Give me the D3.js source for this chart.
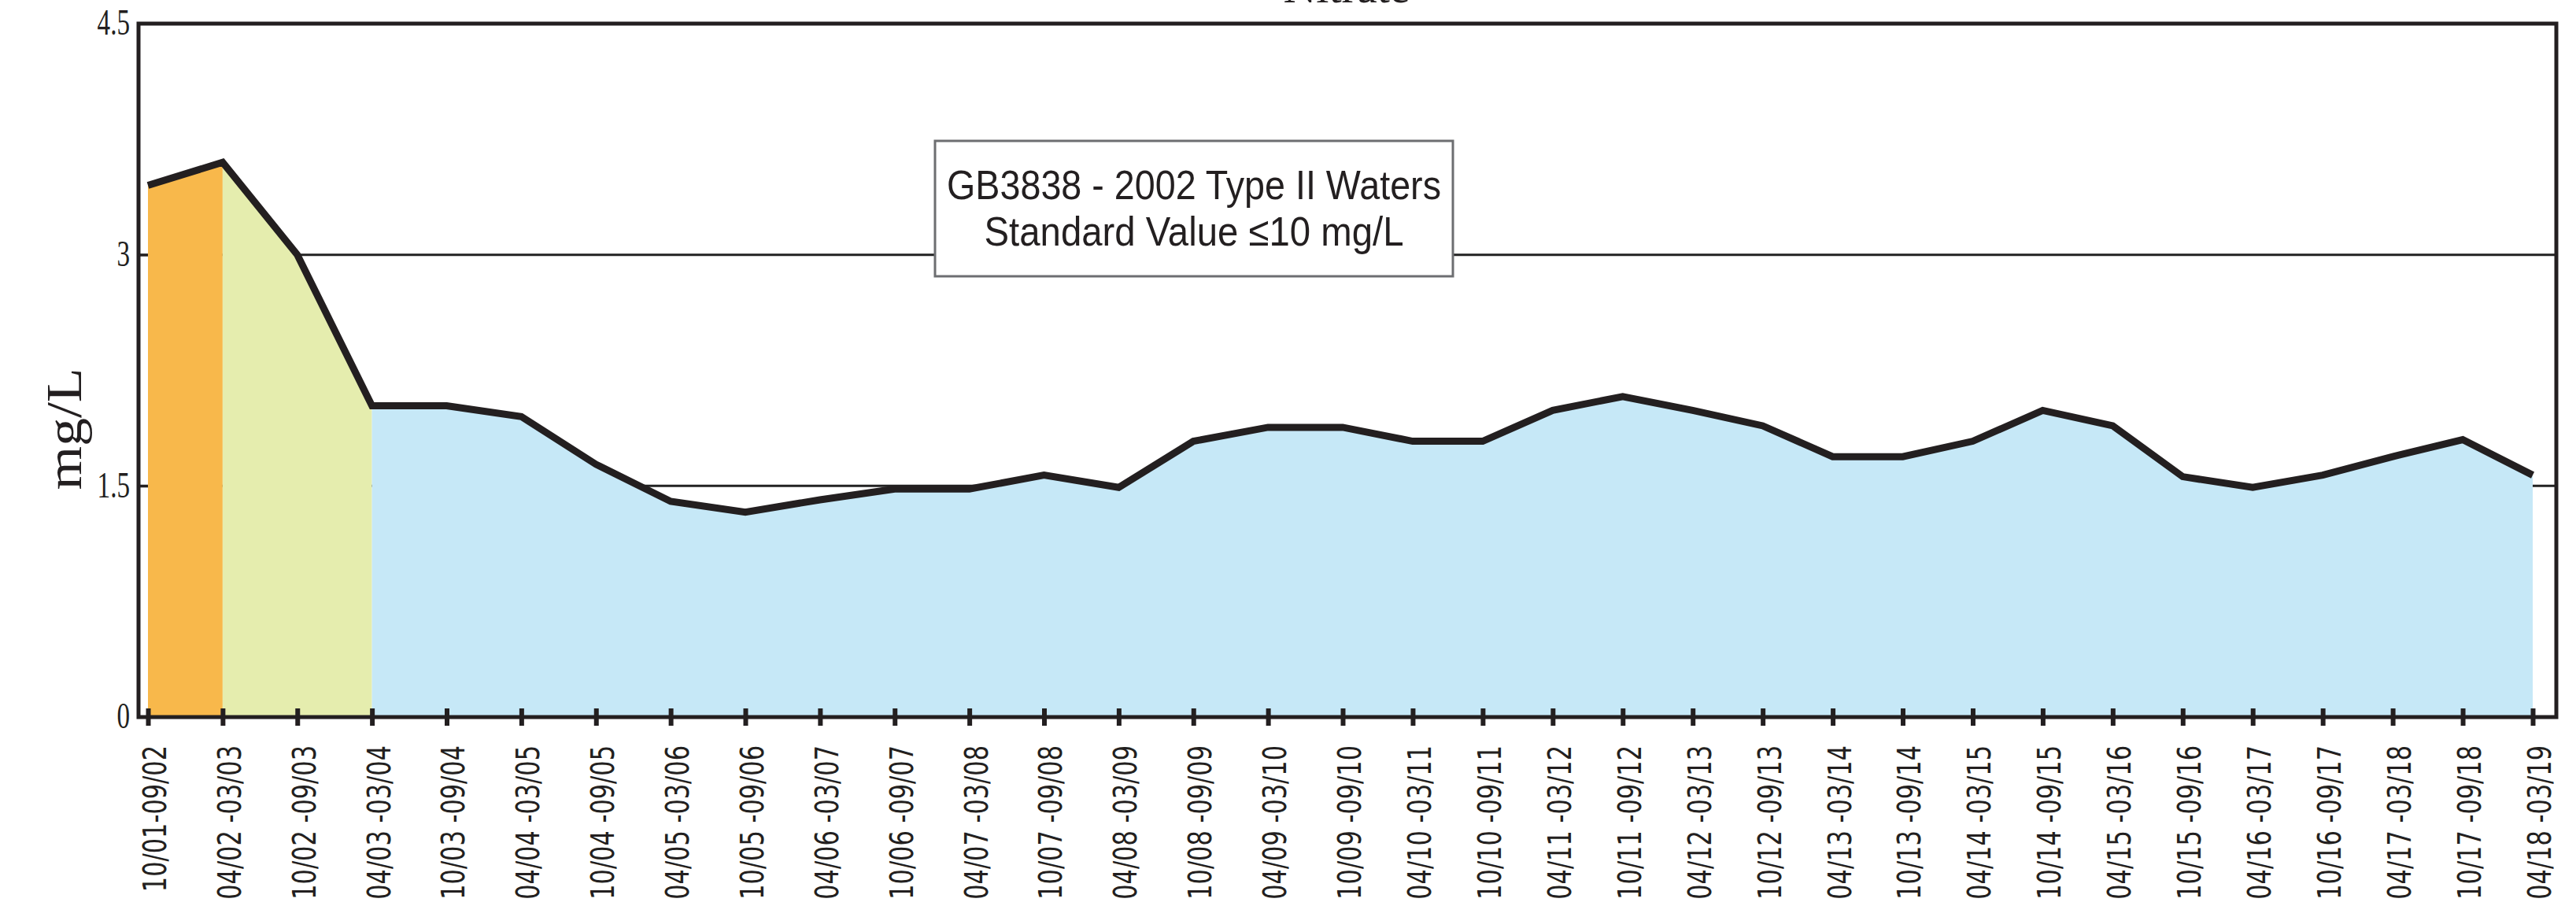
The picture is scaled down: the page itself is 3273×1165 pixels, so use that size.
<!DOCTYPE html>
<html>
<head>
<meta charset="utf-8">
<style type="text/css">
  body { margin: 0; background: #fff; }
  .axis text { fill: #231f20; }
  .ylab text { font: 46px "Liberation Serif", serif; }
  .xlab text { font: 40px "DejaVu Sans", sans-serif; }
</style>
</head>
<body>
<svg id="chart" width="3273" height="1165"></svg>
<script src="https://d3js.org/d3.v7.min.js"></script>
<script>
// periods (half years)
var labels = ["10/01-09/02", "04/02 -03/03", "10/02 -09/03", "04/03 -03/04", "10/03 -09/04",
  "04/04 -03/05", "10/04 -09/05", "04/05 -03/06", "10/05 -09/06", "04/06 -03/07",
  "10/06 -09/07", "04/07 -03/08", "10/07 -09/08", "04/08 -03/09", "10/08 -09/09",
  "04/09 -03/10", "10/09 -09/10", "04/10 -03/11", "10/10 -09/11", "04/11 -03/12",
  "10/11 -09/12", "04/12 -03/13", "10/12 -09/13", "04/13 -03/14", "10/13 -09/14",
  "04/14 -03/15", "10/14 -09/15", "04/15 -03/16", "10/15 -09/16", "04/16 -03/17",
  "10/16 -09/17", "04/17 -03/18", "10/17 -09/18", "04/18 -03/19"];

// nitrate, mg/L
var values = [3.45, 3.60, 3.00, 2.02, 2.02, 1.95, 1.64, 1.40, 1.33, 1.41,
  1.48, 1.48, 1.57, 1.49, 1.79, 1.88, 1.88, 1.79, 1.79, 1.99,
  2.08, 1.99, 1.89, 1.69, 1.69, 1.79, 1.99, 1.89, 1.56, 1.49,
  1.57, 1.69, 1.80, 1.57];

var yTicks = [0, 1.5, 3, 4.5];
var refLines = [1.5, 3];
// shaded stages: index where each colour band starts/ends
var stageBreaks = [0, 1, 3, 33];
var stageColors = ["#f8b84b", "#e5edae", "#c6e8f7"];

var svg = d3.select("#chart");

var x = d3.scaleLinear()
    .domain([0, 16, 33])
    .range([188, 1706, 3218]);

var y = d3.scaleLinear()
    .domain([0, 4.5])
    .range([911, 30]);

var left = 176, right = 3248;

// title (cut at top of the figure, as in the original)
svg.append("text")
    .attr("x", 1711)
    .attr("y", 3)
    .attr("text-anchor", "middle")
    .attr("font-family", "Liberation Serif, serif")
    .attr("font-size", 58)
    .attr("fill", "#231f20")
    .text("Nitrate");

// horizontal lines behind the areas
svg.selectAll("line.ref")
  .data(refLines)
  .enter().append("line")
    .attr("class", "ref")
    .attr("x1", left)
    .attr("x2", right)
    .attr("y1", function(d) { return y(d); })
    .attr("y2", function(d) { return y(d); })
    .attr("stroke", "#222")
    .attr("stroke-width", 3);

var area = d3.area()
    .x(function(i) { return x(i); })
    .y0(y(0))
    .y1(function(i) { return y(values[i]); });

svg.selectAll("path.stage")
  .data(stageColors)
  .enter().append("path")
    .attr("class", "stage")
    .attr("fill", function(d) { return d; })
    .attr("d", function(d, k) {
      return area(d3.range(stageBreaks[k], stageBreaks[k + 1] + 1));
    });

var line = d3.line()
    .x(function(i) { return x(i); })
    .y(function(i) { return y(values[i]); });

svg.append("path")
    .attr("d", line(d3.range(values.length)))
    .attr("fill", "none")
    .attr("stroke", "#231f20")
    .attr("stroke-width", 9)
    .attr("stroke-linejoin", "miter");

// frame
svg.append("rect")
    .attr("x", left)
    .attr("y", y(4.5))
    .attr("width", right - left)
    .attr("height", y(0) - y(4.5))
    .attr("fill", "none")
    .attr("stroke", "#231f20")
    .attr("stroke-width", 5);

// y axis
var yAxis = svg.append("g")
    .attr("class", "axis ylab")
    .attr("transform", "translate(" + left + ",0)")
    .call(d3.axisLeft(y)
      .tickValues(yTicks)
      .tickSize(-12)
      .tickPadding(11)
      .tickFormat(function(d) { return String(d); }));
yAxis.select(".domain").remove();
yAxis.selectAll(".tick line").attr("stroke", "#231f20").attr("stroke-width", 3);
yAxis.selectAll(".tick text")
    .attr("transform", "scale(0.72,1)")
    .attr("x", -11 / 0.72)
    .attr("dy", "0.3em");

svg.append("text")
    .attr("transform", "translate(103,545) rotate(-90)")
    .attr("text-anchor", "middle")
    .attr("font-family", "Liberation Serif, serif")
    .attr("font-size", 64)
    .attr("fill", "#231f20")
    .attr("textLength", 155)
    .attr("lengthAdjust", "spacingAndGlyphs")
    .text("mg/L");

// x axis
var xAxis = svg.append("g")
    .attr("class", "axis xlab")
    .attr("transform", "translate(0," + y(0) + ")")
    .call(d3.axisBottom(x)
      .tickValues(d3.range(labels.length))
      .tickSize(11)
      .tickFormat(function(i) { return labels[i]; }));
xAxis.select(".domain").remove();
xAxis.selectAll(".tick line")
    .attr("y1", -11)
    .attr("stroke", "#231f20")
    .attr("stroke-width", 6);
xAxis.selectAll(".tick text")
    .attr("transform", "rotate(-90) scale(0.76,1)")
    .attr("text-anchor", "end")
    .attr("x", -36 / 0.76)
    .attr("y", 8)
    .attr("dy", "0.36em");

// standard box
var box = svg.append("g");
box.append("rect")
    .attr("x", 1188)
    .attr("y", 179)
    .attr("width", 658)
    .attr("height", 172)
    .attr("fill", "#fff")
    .attr("stroke", "#6d6e71")
    .attr("stroke-width", 3);
box.selectAll("text")
  .data([["GB3838 - 2002 Type II Waters", 253, 628], ["Standard Value \u226410 mg/L", 312, 533]])
  .enter().append("text")
    .attr("x", 1517)
    .attr("y", function(d) { return d[1]; })
    .attr("text-anchor", "middle")
    .attr("font-family", "Liberation Sans, Arial, sans-serif")
    .attr("font-size", 52)
    .attr("fill", "#231f20")
    .attr("textLength", function(d) { return d[2]; })
    .attr("lengthAdjust", "spacingAndGlyphs")
    .text(function(d) { return d[0]; });
</script>
</body>
</html>
